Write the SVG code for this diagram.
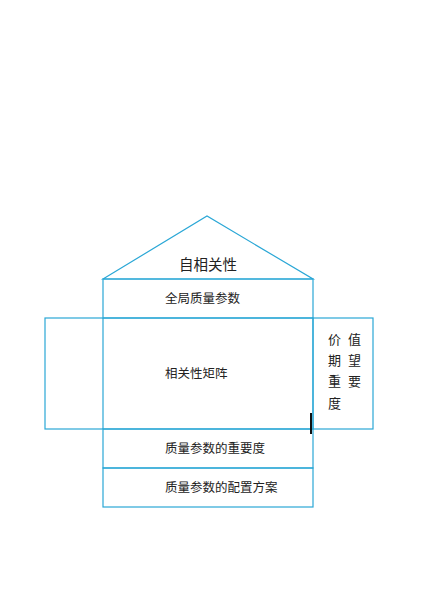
<svg xmlns="http://www.w3.org/2000/svg" width="430" height="590" viewBox="0 0 430 590">
<style>
.ln{fill:none;stroke:#2aa7d6;stroke-width:1.2}
.t{font-family:"Noto Sans CJK SC","Liberation Sans",sans-serif;fill:#222;font-size:12.5px}
</style>
<rect width="430" height="590" fill="#fff"/>
<g id="roof"><polygon class="ln" points="103,279 207,216 313,279"/><text class="t" x="179" y="270" style="font-size:14.5px">自相关性</text></g>
<g id="global"><rect class="ln" x="103" y="279" width="210" height="39"/><text class="t" x="165" y="303">全局质量参数</text></g>
<g id="matrix"><rect class="ln" x="45" y="318" width="268" height="111"/><line class="ln" x1="103" y1="318" x2="103" y2="429"/><text class="t" x="165" y="378">相关性矩阵</text></g>
<g id="expect"><rect class="ln" x="313" y="318" width="60" height="111"/>
<text class="t" x="328" y="344" style="font-size:13px">价</text><text class="t" x="348" y="344" style="font-size:13px">值</text>
<text class="t" x="328" y="365" style="font-size:13px">期</text><text class="t" x="348" y="365" style="font-size:13px">望</text>
<text class="t" x="328" y="386" style="font-size:13px">重</text><text class="t" x="348" y="386" style="font-size:13px">要</text>
<text class="t" x="328" y="408" style="font-size:13px">度</text></g>
<g id="importance"><rect class="ln" x="103" y="429" width="210" height="39"/><text class="t" x="165" y="453">质量参数的重要度</text></g>
<g id="config"><rect class="ln" x="103" y="468" width="210" height="39"/><text class="t" x="165" y="492">质量参数的配置方案</text></g>
<g id="connectors"><rect x="310" y="413" width="2" height="21" fill="#111"/></g>
</svg>
